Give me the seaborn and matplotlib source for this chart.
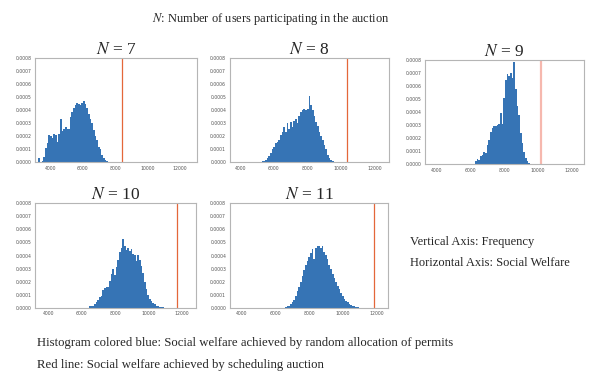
import numpy as np
import pandas as pd
import matplotlib.pyplot as plt
import seaborn as sns
from matplotlib.ticker import FormatStrFormatter

# number of users participating in the auction, one panel each
users = [7, 8, 9, 10, 11]

# histograms: first bin edge, bin width, heights (x 1e-4)
hist_start = [3280, 5290, 6270, 6450, 6570]
hist_width = [102, 99, 99, 100, 99]

heights_n7 = [0.3, 0.0, 0.1, 0.4, 1.1, 1.5, 2.1, 2.0, 1.9, 2.2,
              2.1, 1.6, 2.2, 3.3, 2.4, 2.6, 2.7, 2.6, 2.6, 3.5,
              3.9, 4.2, 4.4, 4.6, 4.5, 4.4, 4.6, 4.7, 4.5, 4.2,
              3.7, 3.3, 3.0, 2.5, 2.0, 1.7, 1.2, 1.0, 0.6, 0.3,
              0.2, 0.1]
heights_n8 = [0.1, 0.1, 0.2, 0.3, 0.5, 0.7, 1.0, 1.2, 1.5, 1.6,
              1.7, 2.1, 2.3, 2.7, 2.3, 3.0, 2.6, 3.1, 2.7, 3.2,
              3.3, 3.0, 3.6, 3.9, 4.0, 4.1, 4.0, 4.1, 5.1, 4.4,
              4.0, 3.6, 3.1, 2.8, 2.3, 2.0, 1.7, 1.3, 1.0, 0.6,
              0.3, 0.2, 0.1]
heights_n9 = [0.25, 0.4, 0.35, 0.6, 0.7, 0.95, 0.9, 1.5, 1.9, 2.45,
              2.75, 2.95, 2.9, 3.0, 3.1, 3.9, 3.1, 5.1, 6.5, 6.9,
              6.8, 7.0, 6.6, 7.85, 5.8, 4.5, 3.8, 2.4, 1.6, 0.95,
              0.45, 0.25, 0.1]
heights_n10 = [0.1, 0.1, 0.15, 0.3, 0.45, 0.6, 0.85, 0.9, 1.35, 1.5,
               1.55, 1.6, 2.05, 2.55, 2.95, 2.5, 3.15, 3.65, 4.25, 4.55,
               5.3, 4.7, 4.4, 4.55, 4.35, 4.5, 4.15, 4.0, 3.6, 4.0,
               3.65, 3.2, 2.65, 2.0, 1.4, 1.0, 0.7, 0.5, 0.35, 0.25,
               0.15, 0.1, 0.05, 0.05, 0.03]
heights_n11 = [0.05, 0.1, 0.15, 0.25, 0.4, 0.6, 0.9, 1.3, 1.6, 2.0,
               2.4, 2.9, 3.3, 3.6, 3.9, 4.2, 4.5, 3.7, 4.6, 4.7,
               4.7, 4.6, 4.7, 4.3, 4.0, 3.7, 3.3, 3.0, 2.6, 2.3,
               2.0, 1.7, 1.4, 1.1, 0.9, 0.7, 0.5, 0.4, 0.3, 0.2,
               0.15, 0.1, 0.07, 0.05]
all_heights = [heights_n7, heights_n8, heights_n9, heights_n10, heights_n11]

# red line: social welfare achieved by the scheduling auction
auction_welfare = [8400, 10320, 10170, 11700, 11860]

# x range shown in each screenshot panel
x_limits = [(3077, 13020), (3407, 12853), (3307, 12729), (3202, 12862), (3307, 12688)]

W, H = 594, 373
# panel boxes in pixels: left, top, right, bottom
boxes = [(35, 58.3, 196.7, 162.3), (230, 58.3, 389.3, 162.3), (425, 60, 584, 164.3),
         (35, 203.3, 196, 307.7), (230, 203.3, 388.3, 307.7)]

sns.set_style("white", {"axes.edgecolor": "#b5b5b5"})
plt.rcParams['font.family'] = ['DejaVu Sans']
plt.rcParams['mathtext.fontset'] = 'stix'
serif = ['Liberation Serif', 'DejaVu Serif']

blue = "#3674b5"
fig = plt.figure(figsize=(W / 100, H / 100), dpi=100)

for i, n in enumerate(users):
    l, t, r, b = boxes[i]
    ax = fig.add_axes([l / W, 1 - b / H, (r - l) / W, (b - t) / H])
    h = np.array(all_heights[i]) * 1e-4
    edges = hist_start[i] + hist_width[i] * np.arange(len(h) + 1)
    df = pd.DataFrame({"welfare": (edges[:-1] + edges[1:]) / 2, "freq": h})
    sns.histplot(data=df, x="welfare", weights="freq", bins=edges.tolist(), stat="count",
                 color=blue, alpha=1, linewidth=0, ax=ax)
    if n == 9:
        ax.axvline(auction_welfare[i], color="#f08a78", lw=1.6, alpha=0.6)
    else:
        ax.axvline(auction_welfare[i], color="#e4673a", lw=0.9)
    ax.set_xlim(*x_limits[i])
    ax.set_ylim(0, 0.0008)
    ax.set_xticks([4000, 6000, 8000, 10000, 12000])
    ax.set_yticks(np.arange(0, 0.00081, 0.0001))
    ax.yaxis.set_major_formatter(FormatStrFormatter('%.4f'))
    ax.tick_params(labelsize=3.3, labelcolor="#555555", length=1.2, width=0.4,
                   color="#999999", pad=1.5)
    ax.set_xlabel("")
    ax.set_ylabel("")
    for s in ax.spines.values():
        s.set_linewidth(0.8)
    ax.set_title(f"$N$ = {n}", fontsize=12.5, pad=3, family=serif)

fig.text(271 / W, 1 - 19 / H, "$N$: Number of users participating in the auction",
         ha="center", va="center", fontsize=9, family=serif)
fig.text(410 / W, 1 - 241.7 / H, "Vertical Axis: Frequency",
         ha="left", va="center", fontsize=9, family=serif)
fig.text(410 / W, 1 - 262.7 / H, "Horizontal Axis: Social Welfare",
         ha="left", va="center", fontsize=9, family=serif)
fig.text(37 / W, 1 - 343.3 / H,
         "Histogram colored blue: Social welfare achieved by random allocation of permits",
         ha="left", va="center", fontsize=9.15, family=serif)
fig.text(37 / W, 1 - 365 / H, "Red line: Social welfare achieved by scheduling auction",
         ha="left", va="center", fontsize=9.15, family=serif)

fig.savefig("out.png", dpi=100)
